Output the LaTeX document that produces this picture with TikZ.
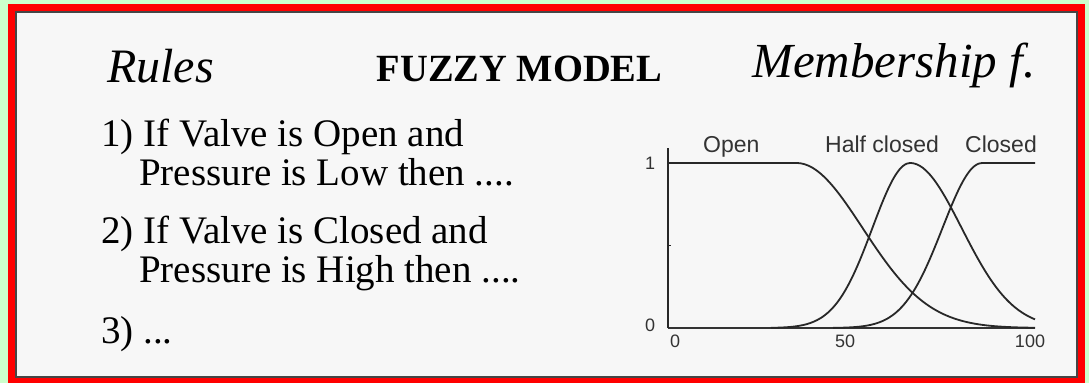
\documentclass[tikz,border=0pt]{standalone}
\usepackage{fontspec}
\setmainfont{Liberation Serif}
\newfontfamily\chartfont{Liberation Sans}
\definecolor{pagegreen}{RGB}{204,255,204}
\definecolor{framered}{RGB}{255,0,0}
\definecolor{panelgray}{RGB}{247,247,247}
\definecolor{edgegray}{RGB}{70,70,70}
\definecolor{inkgray}{RGB}{40,40,40}
\definecolor{labelgray}{RGB}{51,51,51}
\tikzset{
  heading/.style={inner sep=0pt, anchor=base west, font=\fontsize{48}{58}\selectfont\itshape},
  title/.style={inner sep=0pt, anchor=base, font=\fontsize{38.5}{46}\selectfont\bfseries},
  ruletext/.style={inner sep=0pt, anchor=base west, font=\fontsize{39}{47}\selectfont},
  curvelabel/.style={inner sep=0pt, anchor=base west, text=labelgray, font=\chartfont\fontsize{23}{27}\selectfont},
  ticklabel/.style={inner sep=0pt, anchor=center, text=labelgray, font=\chartfont\fontsize{18}{22}\selectfont},
  mf/.style={draw=inkgray, line width=1.8pt, line join=round},
}
\begin{document}
\begin{tikzpicture}[x=1pt, y=-1pt]
  % page and frame
  \fill[pagegreen] (0,0) rectangle (1089,383);
  \useasboundingbox (0,0) rectangle (1089,383);
  \fill[framered] (8,4) rectangle (1085,383);
  \filldraw[fill=panelgray, draw=edgegray, line width=1.4pt] (16,12) rectangle (1077,377);

  % headings
  \node[heading] (rules) at (107,82) {Rules};
  \node[title] (model) at (519.5,81) {FUZZY MODEL};
  \node[heading, font=\fontsize{49}{58}\selectfont\itshape] (memb) at (752,77) {Membership f.};

  % rule base
  \node[ruletext] (r1a) at (101,146) {1) If Valve is Open and};
  \node[ruletext] (r1b) at (139,185) {Pressure is Low then ....};
  \node[ruletext] (r2a) at (101,243) {2) If Valve is Closed and};
  \node[ruletext] (r2b) at (139,282) {Pressure is High then ....};
  \node[ruletext] (r3)  at (101,343) {3) ...};

  % membership functions
  \begin{scope}[shift={(668,328)}, x=3.67pt, y=165pt]
    \draw[draw=labelgray, line width=1.3pt] (0,0) -- (100,0);
    \draw[draw=inkgray, line width=2.6pt] (0,0) -- (0,1.09);
    \draw[draw=inkgray, line width=1pt] (0,0.5) -- (0.9,0.5);
    % Open
    \draw[mf] (0,1) -- (35,1)
      -- plot[domain=35:100, samples=60, smooth] (\x,{exp(-((\x-35)^2)/648)});
    % Half closed
    \draw[mf] plot[domain=28:66, samples=40, smooth] (\x,{exp(-((\x-66)^2)/212)})
      -- plot[domain=66:100, samples=40, smooth] (\x,{exp(-((\x-66)^2)/392)});
    % Closed
    \draw[mf] plot[domain=45:85.6, samples=40, smooth] (\x,{exp(-((\x-85.6)^2)/233)})
      -- (100,1);
  \end{scope}

  % chart labels
  \node[curvelabel] (lopen) at (703,152) {Open};
  \node[curvelabel] (lhalf) at (825,152) {Half closed};
  \node[curvelabel] (lclosed) at (965,152) {Closed};
  \node[ticklabel] (yone) at (650,163) {1};
  \node[ticklabel] (yzero) at (650,325) {0};
  \node[ticklabel] (xzero) at (675,341) {0};
  \node[ticklabel] (xfifty) at (845,341) {50};
  \node[ticklabel] (xhundred) at (1030,341) {100};
\end{tikzpicture}
\end{document}
